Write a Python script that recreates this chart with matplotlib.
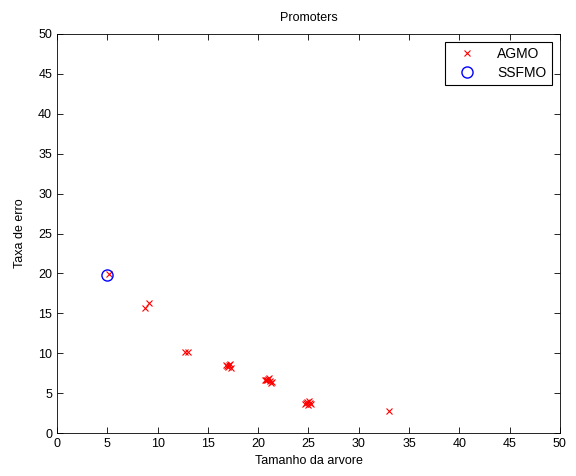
import matplotlib
matplotlib.use('Agg')
import matplotlib.pyplot as plt

plt.rcParams['font.family'] = ['Liberation Sans', 'DejaVu Sans']
plt.rcParams['font.size'] = 9

# AGMO solutions (tree size, error rate)
agmo_x = [5.2, 8.7, 9.1, 12.7, 13.0,
          16.8, 17.0, 17.2, 17.3, 17.1, 16.9,
          20.7, 20.9, 21.0, 21.2, 21.3, 21.1, 20.8, 21.4,
          24.7, 24.9, 25.0, 25.2, 25.3, 25.1, 24.8,
          33.0]
agmo_y = [19.9, 15.7, 16.3, 10.2, 10.1,
          8.5, 8.3, 8.6, 8.2, 8.5, 8.4,
          6.7, 6.6, 6.8, 6.5, 6.3, 6.9, 6.6, 6.4,
          3.6, 3.9, 3.5, 3.8, 3.6, 4.0, 3.7,
          2.7]
# SSFMO solution
ssfmo_x = [5.0]
ssfmo_y = [19.8]

fig = plt.figure(figsize=(5.76, 4.76), dpi=100)
ax = fig.add_axes([0.099, 0.0903, 0.873, 0.8383])

ax.plot(agmo_x, agmo_y, 'x', color='red', markersize=4, markeredgewidth=0.8, label='AGMO')
ax.plot(ssfmo_x, ssfmo_y, 'o', markerfacecolor='none', markeredgecolor='blue',
        markersize=8, markeredgewidth=1.0, label='SSFMO')

ax.set_xlim(0, 50)
ax.set_ylim(0, 50)
ax.set_xticks(range(0, 51, 5))
ax.set_yticks(range(0, 51, 5))
ax.tick_params(direction='in', top=True, right=True, length=4, width=0.6, labelsize=9)
for s in ax.spines.values():
    s.set_linewidth(0.6)

ax.set_title('Promoters', fontsize=9, pad=9)
ax.set_xlabel('Tamanho da arvore', labelpad=4)
ax.set_ylabel('Taxa de erro', labelpad=9)

leg = ax.legend(loc='upper right', fancybox=False, edgecolor='black',
                framealpha=1, borderaxespad=0.6, handletextpad=1.0,
                handlelength=2.4, fontsize=10, borderpad=0.35, labelspacing=0.35)
leg.get_frame().set_linewidth(0.8)

fig.savefig('out.png', dpi=100)
